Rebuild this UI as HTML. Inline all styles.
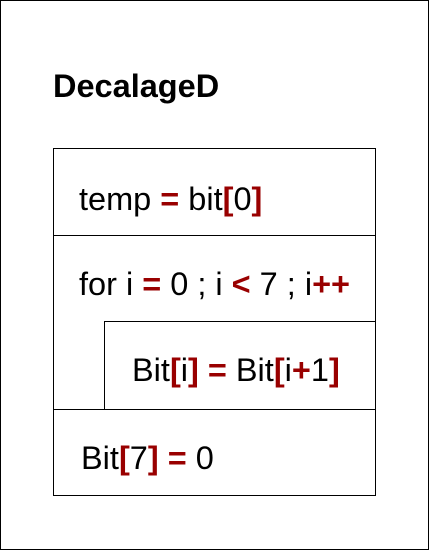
<!DOCTYPE html>
<html><head><style>
html,body{margin:0;padding:0;background:#fff;}
svg{display:block;}
text{font-family:"Liberation Sans",Arial,sans-serif;font-size:32.5px;fill:#000;}
.r{fill:#990000;font-weight:bold;}
</style></head><body>
<svg width="429" height="550" viewBox="0 0 429 550" xmlns="http://www.w3.org/2000/svg">
<rect x="0.5" y="0.5" width="428" height="549" fill="#fff" stroke="#000" stroke-width="1"/>
<text x="53" y="97" style="font-weight:bold;font-size:32.5px">DecalageD</text>
<rect x="53.5" y="148.5" width="322" height="347" fill="none" stroke="#000" stroke-width="1"/>
<line x1="53" y1="235.5" x2="376" y2="235.5" stroke="#000"/>
<line x1="53" y1="409.5" x2="376" y2="409.5" stroke="#000"/>
<polyline points="104.5,409 104.5,321.5 376,321.5" fill="none" stroke="#000"/>
<text x="79" y="210">temp <tspan class="r">=</tspan> bit<tspan class="r">[</tspan>0<tspan class="r">]</tspan></text>
<text x="79" y="295">for i <tspan class="r">=</tspan> 0 ; i <tspan class="r">&lt;</tspan> 7 ; i<tspan class="r">++</tspan></text>
<text x="132" y="381">Bit<tspan class="r">[</tspan>i<tspan class="r">]</tspan> <tspan class="r">=</tspan> Bit<tspan class="r">[</tspan>i<tspan class="r">+</tspan>1<tspan class="r">]</tspan></text>
<text x="81" y="469">Bit<tspan class="r">[</tspan>7<tspan class="r">]</tspan> <tspan class="r">=</tspan> 0</text>
</svg>
</body></html>
